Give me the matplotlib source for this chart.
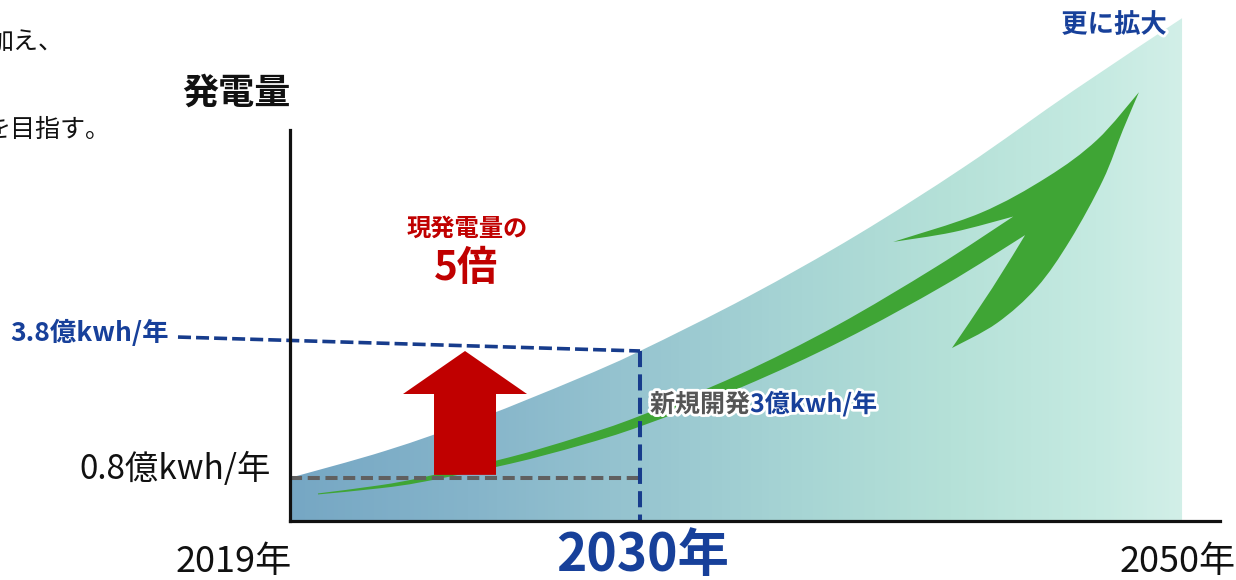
import numpy as np
import matplotlib
matplotlib.use("Agg")
import matplotlib.pyplot as plt
from matplotlib.colors import LinearSegmentedColormap
from matplotlib.patches import PathPatch
from matplotlib.path import Path
from matplotlib.transforms import IdentityTransform
import matplotlib.patheffects as pe

plt.rcParams['font.family'] = ['Noto Sans CJK JP', 'DejaVu Sans']

# ---------------- data ----------------
tick_years = [2019, 2030, 2050]
tick_labels = ['2019年', '2030年', '2050年']
y_title = '発電量'
base_value = 0.8      # 億kwh/年 in 2019
target_value = 3.8    # 億kwh/年 in 2030
base_label = '0.8億kwh/年'
target_label = '3.8億kwh/年'
new_dev_a = '新規開発'
new_dev_b = '3億kwh/年'
ratio_line1 = '現発電量の'
ratio_line2 = '5倍'
expand_label = '更に拡大'
intro_line1 = '加え、'
intro_line2 = 'を目指す。'

# upper edge of the shaded generation area
curve_years = [2019, 2022, 2025, 2028, 2030, 2034, 2038, 2042, 2046, 2050]
curve_values = [0.8, 1.44, 2.22, 3.13, 3.8, 5.09, 6.54, 8.17, 9.96, 11.67]

# green growth arrow: shaft centre line and head outline
trend_years = [2019.88, 2021.83, 2023.18, 2025.91, 2028.11, 2030.0, 2033.69, 2037.38, 2041.07, 2043.99]
trend_values = [0.42, 0.59, 0.76, 1.21, 1.67, 2.14, 3.09, 4.23, 5.57, 6.76]
trend_widths = [1, 3, 4.5, 6.5, 8.5, 10, 12.5, 16, 20, 22]
head_years = [2041.55, 2039.34, 2042.55, 2045.02, 2046.86, 2048.41,
              2047.82, 2047.08, 2045.87, 2044.65, 2043.17, 2041.51, 2043.0]
head_values = [6.61, 6.38, 7.06, 7.91, 8.79, 9.92,
               9.03, 7.84, 6.42, 5.31, 4.46, 3.87, 5.29]

# red "x5" arrow position
red_year = 2024.5

# guide line from the 3.8 label
guide_years = [2015.48, 2030]
guide_values = [4.13, 3.8]

BLUE = '#17409A'
DASH_BLUE = '#173C8C'
RED = '#C00000'
GREEN = '#3FA535'

W, H = 1236, 580


def fwd(x):
    x = np.asarray(x, float)
    return np.where(x <= 2030, (x - 2019) * (350 / 11), 350 + (x - 2030) * (542 / 20))


def inv(p):
    p = np.asarray(p, float)
    return np.where(p <= 350, 2019 + p * (11 / 350), 2030 + (p - 350) * (20 / 542))


def smooth_path(segments, close=True):
    """Bezier path (display coords) through the points of each segment;
    segments join with corners."""
    verts = [segments[0][0]]
    codes = [Path.MOVETO]
    for seg in segments:
        seg = np.asarray(seg, float)
        n = len(seg)
        for i in range(n - 1):
            p0 = seg[i - 1] if i > 0 else seg[i]
            p1, p2 = seg[i], seg[i + 1]
            p3 = seg[i + 2] if i + 2 < n else seg[i + 1]
            c1 = p1 + (p2 - p0) / 6
            c2 = p2 - (p3 - p1) / 6
            verts += [c1, c2, p2]
            codes += [Path.CURVE4] * 3
    if close:
        verts.append(verts[0])
        codes.append(Path.CLOSEPOLY)
    return Path(np.array(verts, float), codes)


fig = plt.figure(figsize=(W / 100, H / 100), dpi=100)
fig.patch.set_facecolor('white')
ax = fig.add_axes([290 / W, 59 / H, 930 / W, 521 / H])
ax.set_xscale('function', functions=(fwd, inv))
YMIN, YMAX = -0.22, 12.1
ax.set_xlim(2019, 2051.4)
ax.set_ylim(YMIN, YMAX)
ax.patch.set_alpha(0)
ax.set_xticks([])
ax.set_yticks([])
for s in ['top', 'right']:
    ax.spines[s].set_visible(False)
for s in ['left', 'bottom']:
    ax.spines[s].set_linewidth(2.3)
    ax.spines[s].set_color('#111111')
    ax.spines[s].set_zorder(6)
ax.spines['left'].set_bounds(YMIN, 9.03)

# gradient area
top = ax.transData.transform(np.column_stack([curve_years, curve_values]))
b_right = ax.transData.transform((curve_years[-1], YMIN))
b_left = ax.transData.transform((curve_years[0], YMIN))
area_path = smooth_path([top, [top[-1], b_right], [b_right, b_left]])
stops = [(0.0, '#76A7C4'), (0.19, '#85B4CA'), (0.376, '#97C5D0'), (0.55, '#A7D5D4'),
         (0.71, '#B5E1D8'), (0.87, '#C5EAE1'), (0.96, '#D2EFE8'), (1.0, '#D2EFE8')]
cmap = LinearSegmentedColormap.from_list('area', stops)
grad = np.linspace(0, 1, 800)[None, :]
im = ax.imshow(grad, cmap=cmap, extent=(0, 1, 0, 1), transform=ax.transAxes,
               aspect='auto', zorder=1, interpolation='bilinear')
im.set_clip_path(area_path, IdentityTransform())
ax.set_xlim(2019, 2051.4)
ax.set_ylim(YMIN, YMAX)

# green arrow
P = ax.transData.transform(np.column_stack([trend_years, trend_values]))
d = np.gradient(P, axis=0)
d /= np.linalg.norm(d, axis=1, keepdims=True)
nrm = np.column_stack([-d[:, 1], d[:, 0]])
hw = np.array(trend_widths, float)[:, None] / 2
upper = P + nrm * hw
lower = P - nrm * hw
Hd = ax.transData.transform(np.column_stack([head_years, head_values]))
segs = [upper,
        [upper[-1], Hd[0], Hd[1]],
        Hd[1:6],
        Hd[5:12],
        [Hd[11], Hd[12], lower[-1]],
        lower[::-1]]
ax.add_patch(PathPatch(smooth_path(segs), facecolor=GREEN, edgecolor='none',
                       transform=IdentityTransform(), zorder=3))

# dashed guides
ax.plot([tick_years[0], tick_years[1]], [base_value, base_value], color='#606060',
        lw=2.9, dashes=(3.0, 1.4), dash_capstyle='butt', zorder=4)
ax.plot([tick_years[1], tick_years[1]], [target_value, YMIN], color=DASH_BLUE,
        lw=2.9, dashes=(4.0, 1.8), dash_capstyle='butt', zorder=4)
ax.plot(guide_years, guide_values, color=DASH_BLUE, lw=2.6, dashes=(3.6, 1.4),
        dash_capstyle='butt', zorder=4, clip_on=False)

# red arrow
cx, yb = ax.transData.transform((red_year, base_value))
_, yt = ax.transData.transform((red_year, target_value))
yb += 3
sw, hh, hl = 31, 62, 43
rpts = np.array([(cx - sw, yb), (cx + sw, yb), (cx + sw, yt - hl), (cx + hh, yt - hl),
                 (cx, yt), (cx - hh, yt - hl), (cx - sw, yt - hl), (cx - sw, yb)])
ax.add_patch(PathPatch(Path(rpts, closed=True), facecolor=RED, edgecolor='none',
                       transform=IdentityTransform(), zorder=5))

PX = 0.72  # points per pixel

# year labels (baseline aligned)
ha_list = ['right', 'center', 'center']
dx_list = [2, 3, -4]
for yr, lab, ha, dx in zip(tick_years, tick_labels, ha_list, dx_list):
    big = yr == 2030
    ax.annotate(lab, xy=(yr, 0), xycoords=('data', 'axes fraction'),
                xytext=(dx * PX, (-50 if big else -51) * PX), textcoords='offset points',
                ha=ha, va='baseline', fontsize=37 if big else 26,
                fontweight='bold' if big else 'normal',
                color=BLUE if big else '#111111', annotation_clip=False)

# value labels
ax.annotate(base_label, xy=(2019, base_value), xytext=(-19 * PX, 8 * PX),
            textcoords='offset points', ha='right', va='center', fontsize=24,
            color='#111111', annotation_clip=False)
ax.annotate(target_label, xy=(guide_years[0], guide_values[0]), xytext=(-9 * PX, 4 * PX),
            textcoords='offset points', ha='right', va='center', fontsize=19,
            fontweight='bold', color=BLUE, annotation_clip=False)


def ft(x, y, s, **kw):
    return fig.text(x / W, 1 - y / H, s, **kw)


glow = [pe.withStroke(linewidth=4, foreground='white')]
ft(236, 93, y_title, fontsize=26, fontweight='bold', ha='center', va='center', color='#111111')
ft(467, 229, ratio_line1, fontsize=17.5, fontweight='bold', ha='center', va='center', color=RED)
ft(466, 268, ratio_line2, fontsize=29, fontweight='bold', ha='center', va='center', color=RED)
t1 = ft(650, 405, new_dev_a, fontsize=18, fontweight='bold', ha='left', va='center',
        color='#555555', path_effects=glow, zorder=8)
ax.annotate(new_dev_b, xy=(1, 0), xycoords=t1, ha='left', va='bottom', fontsize=18,
            fontweight='bold', color=BLUE, path_effects=glow, annotation_clip=False, zorder=8)
ft(1114, 25, expand_label, fontsize=19, fontweight='bold', ha='center', va='center',
   color=BLUE, path_effects=glow, zorder=8)
ft(-12, 42, intro_line1, fontsize=18, ha='left', va='center', color='#111111')
ft(-14, 130, intro_line2, fontsize=18, ha='left', va='center', color='#111111')

fig.savefig('out.png', dpi=100, facecolor='white')
